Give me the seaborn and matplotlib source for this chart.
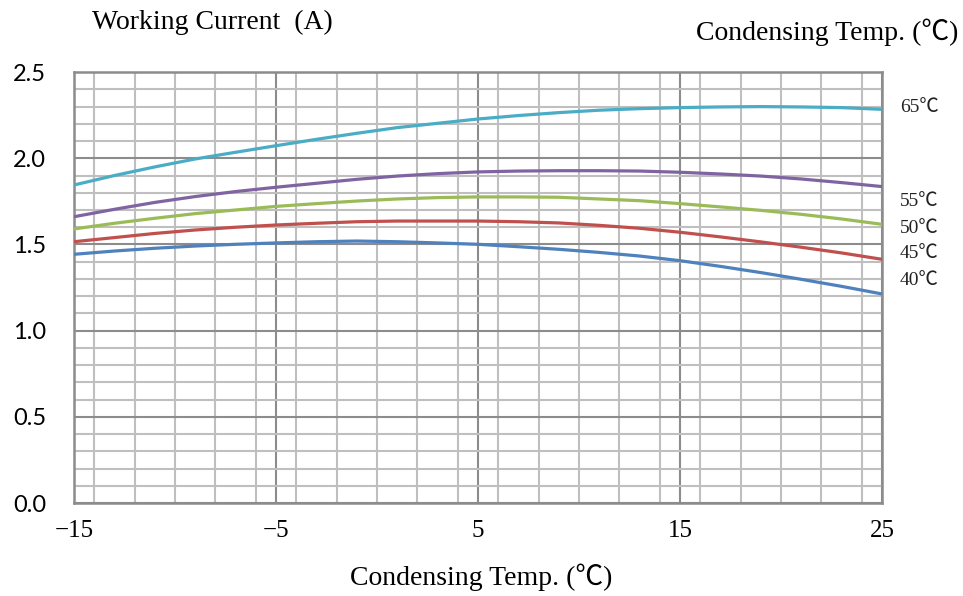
import numpy as np
import pandas as pd
import seaborn as sns
import matplotlib.pyplot as plt
from matplotlib.ticker import MultipleLocator, FixedLocator
from matplotlib.transforms import blended_transform_factory

# condensing temperature (x axis), read at every vertical grid line
cond_temp = [-15, -13, -11, -9, -7, -5, -3, -1, 1, 3, 5, 7, 9, 11, 13, 15, 17, 19, 21, 23, 25]

# working current per evaporating temperature curve
current_65 = [1.845, 1.900, 1.950, 1.996, 2.035, 2.073, 2.110, 2.145, 2.178, 2.203, 2.228,
              2.248, 2.265, 2.279, 2.288, 2.294, 2.298, 2.300, 2.298, 2.294, 2.284]
current_55 = [1.661, 1.704, 1.744, 1.778, 1.807, 1.832, 1.855, 1.878, 1.897, 1.911, 1.921,
              1.926, 1.928, 1.928, 1.926, 1.919, 1.909, 1.897, 1.880, 1.859, 1.836]
current_50 = [1.590, 1.623, 1.652, 1.679, 1.700, 1.721, 1.737, 1.752, 1.764, 1.772, 1.776,
              1.776, 1.774, 1.764, 1.754, 1.737, 1.718, 1.698, 1.675, 1.648, 1.617]
current_45 = [1.516, 1.540, 1.564, 1.584, 1.600, 1.613, 1.623, 1.632, 1.636, 1.636, 1.636,
              1.632, 1.625, 1.611, 1.594, 1.571, 1.544, 1.515, 1.484, 1.451, 1.414]
current_40 = [1.443, 1.462, 1.478, 1.491, 1.501, 1.509, 1.516, 1.520, 1.516, 1.509, 1.501,
              1.487, 1.472, 1.454, 1.433, 1.406, 1.373, 1.337, 1.298, 1.257, 1.213]

series_names = ["65℃", "55℃", "50℃", "45℃", "40℃"]
series_colors = ["#4BACC6", "#8064A2", "#9BBB59", "#C0504D", "#4F81BD"]
# where the curve names sit on the right side
label_y = [2.297, 1.752, 1.595, 1.450, 1.293]

x_ticks = [-15, -5, 5, 15, 25]
x_tick_labels = ["\u221215", "\u22125", "5", "15", "25"]
y_ticks = [0.0, 0.5, 1.0, 1.5, 2.0, 2.5]

rows = []
for name, vals in zip(series_names, [current_65, current_55, current_50, current_45, current_40]):
    for t, v in zip(cond_temp, vals):
        rows.append({"Temp": t, "Current": v, "Curve": name})
df = pd.DataFrame(rows)

sns.set_theme(style="white")
serif = ["Liberation Serif", "Noto Sans CJK SC", "DejaVu Sans"]
plt.rcParams["font.family"] = serif
plt.rcParams["text.color"] = "black"
plt.rcParams["xtick.color"] = "black"
plt.rcParams["ytick.color"] = "black"

fig = plt.figure(figsize=(9.63, 5.96), dpi=100)
ax = fig.add_axes([0.0768, 0.156, 0.8391, 0.723])

sns.lineplot(data=df, x="Temp", y="Current", hue="Curve",
             palette=dict(zip(series_names, series_colors)),
             linewidth=2.3, legend=False, ax=ax, zorder=3)

ax.set_xlim(-15, 25)
ax.set_ylim(0, 2.5)

ax.xaxis.set_major_locator(FixedLocator(x_ticks))
ax.set_xticklabels(x_tick_labels)
ax.xaxis.set_minor_locator(MultipleLocator(2))
ax.yaxis.set_major_locator(FixedLocator(y_ticks))
ax.yaxis.set_minor_locator(MultipleLocator(0.1))
ax.set_yticklabels([f"{v:.1f}" for v in y_ticks])

ax.grid(which="minor", color="#bfbfbf", linewidth=1.5)
ax.grid(which="major", color="#8c8c8c", linewidth=1.5)
ax.set_axisbelow(True)

for s in ax.spines.values():
    s.set_visible(True)
    s.set_color("#8c8c8c")
    s.set_linewidth(1.8)

ax.tick_params(axis="both", which="both", length=0)
ax.tick_params(axis="x", labelsize=18, pad=12, labelcolor="black")
ax.tick_params(axis="y", labelsize=17, pad=20, labelcolor="black")
for lab in ax.get_yticklabels():
    lab.set_family(["Lato", "DejaVu Sans"])

ax.set_xlabel("")
ax.set_ylabel("")

trans = blended_transform_factory(ax.transAxes, ax.transData)
for name, y in zip(series_names, label_y):
    ax.text(1.022, y, name, transform=trans, fontsize=14, color="#222222",
            va="center", ha="left", family=serif)

fig.text(0.0955, 0.963, "Working Current  (A)", fontsize=20, va="center", ha="left", family=serif)
fig.text(0.995, 0.946, "Condensing Temp. (℃)", fontsize=20, va="center", ha="right", family=serif)
fig.text(0.50, 0.032, "Condensing Temp. (℃)", fontsize=20, va="center", ha="center", family=serif)

fig.savefig("out.png", dpi=100)
